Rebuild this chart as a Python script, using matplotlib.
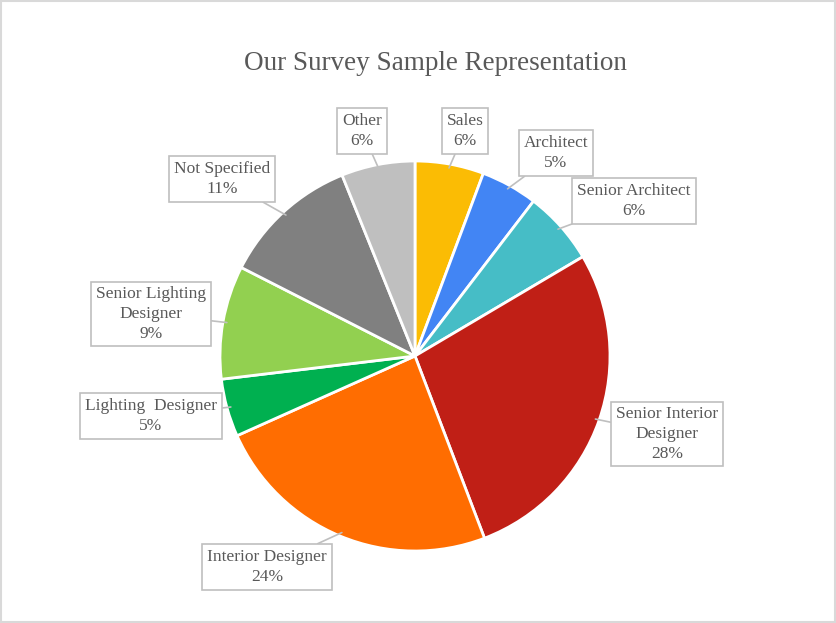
import numpy as np
import matplotlib.pyplot as plt
from matplotlib.patches import Rectangle

# slice data, clockwise from 12 o'clock
roles = ['Sales', 'Architect', 'Senior Architect', 'Senior Interior\nDesigner',
         'Interior Designer', 'Lighting  Designer', 'Senior Lighting\nDesigner',
         'Not Specified', 'Other']
shares = [5.7, 4.7, 6.1, 27.7, 24.1, 4.8, 9.4, 11.4, 6.1]
colors = ['#FBBC04', '#4285F4', '#46BDC6', '#C01F16', '#FF6D01',
          '#00B050', '#92D050', '#808080', '#BFBFBF']

# callout box centres in pixel coords (x right, y down)
box_xy = [(465, 131), (556, 153), (634, 201), (667, 434), (267, 567),
          (151, 416), (151, 314), (222, 179), (362, 131)]

W, H = 837, 623
fig = plt.figure(figsize=(W / 100, H / 100), dpi=100)
ax = fig.add_axes([0, 0, 1, 1])

cx, cy, R = 415, H - 356, 195
wedges, _ = ax.pie(shares, colors=colors, startangle=90, counterclock=False,
                   center=(cx, cy), radius=R, frame=True,
                   wedgeprops=dict(edgecolor='white', linewidth=2))
ax.set_xlim(0, W)
ax.set_ylim(0, H)
ax.set_aspect('equal')
ax.axis('off')

total = sum(shares)
for w, name, val, (bx, by) in zip(wedges, roles, shares, box_xy):
    mid = np.deg2rad((w.theta1 + w.theta2) / 2)
    px, py = cx + R * 0.98 * np.cos(mid), cy + R * 0.98 * np.sin(mid)
    txt = f"{name}\n{round(val / total * 100):.0f}%"
    ax.annotate(txt, xy=(px, py), xytext=(bx, H - by),
                ha='center', va='center', fontsize=12.5, color='#595959',
                family='Liberation Serif', linespacing=1.3,
                bbox=dict(boxstyle='square,pad=0.28', fc='white', ec='#BFBFBF', lw=1.2),
                arrowprops=dict(arrowstyle='-', color='#BFBFBF', lw=1.2,
                                shrinkA=0, shrinkB=0))

fig.text(435 / W, 1 - 63 / H, 'Our Survey Sample Representation', ha='center', va='center',
         fontsize=19.5, color='#595959', family='Liberation Serif')

fig.add_artist(Rectangle((0.001, 0.001), 0.997, 0.997, transform=fig.transFigure,
                         fill=False, ec='#D9D9D9', lw=1.5))

fig.savefig('out.png', dpi=100)
